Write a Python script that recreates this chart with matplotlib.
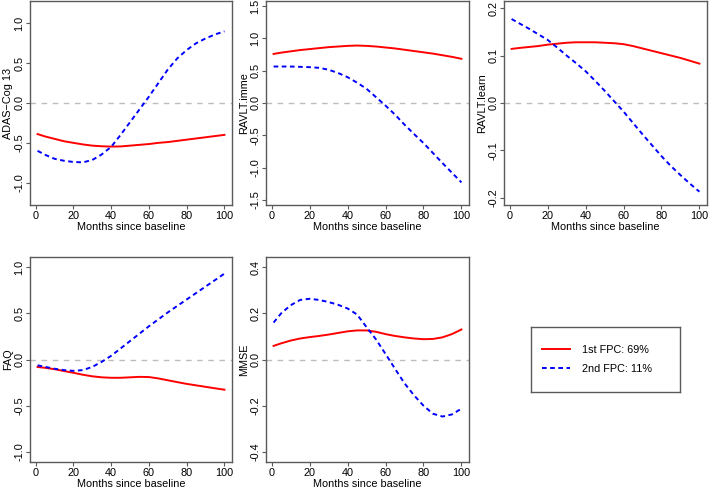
import matplotlib
matplotlib.use("Agg")
import matplotlib.pyplot as plt
from matplotlib.lines import Line2D

plt.rcParams['font.family'] = ['Liberation Sans', 'DejaVu Sans']

months = [1, 5, 10, 15, 20, 25, 30, 35, 40, 45, 50, 55, 60, 65, 70, 75, 80, 85, 90, 95, 100]

# 1st FPC (red) and 2nd FPC (blue) for each outcome
adas_fpc1 = [-0.39, -0.42, -0.45, -0.48, -0.50, -0.52, -0.535, -0.543, -0.547, -0.545, -0.535,
             -0.525, -0.515, -0.50, -0.49, -0.475, -0.46, -0.445, -0.43, -0.415, -0.40]
adas_fpc2 = [-0.60, -0.65, -0.70, -0.725, -0.74, -0.745, -0.715, -0.645, -0.55, -0.40, -0.24,
             -0.08, 0.08, 0.25, 0.42, 0.56, 0.665, 0.75, 0.81, 0.86, 0.90]

imme_fpc1 = [0.76, 0.78, 0.80, 0.82, 0.835, 0.85, 0.865, 0.875, 0.885, 0.89, 0.885,
             0.875, 0.86, 0.845, 0.825, 0.805, 0.785, 0.765, 0.74, 0.715, 0.685]
imme_fpc2 = [0.565, 0.565, 0.565, 0.56, 0.555, 0.545, 0.515, 0.465, 0.40, 0.315, 0.22,
             0.09, -0.04, -0.18, -0.335, -0.48, -0.62, -0.775, -0.93, -1.08, -1.23]

learn_fpc1 = [0.114, 0.116, 0.118, 0.120, 0.123, 0.125, 0.127, 0.128, 0.128, 0.128, 0.127,
              0.126, 0.124, 0.120, 0.115, 0.110, 0.105, 0.100, 0.095, 0.089, 0.083]
learn_fpc2 = [0.177, 0.168, 0.157, 0.145, 0.133, 0.117, 0.100, 0.084, 0.067, 0.047, 0.026,
              0.004, -0.018, -0.042, -0.066, -0.089, -0.112, -0.133, -0.152, -0.170, -0.187]

faq_fpc1 = [-0.081, -0.09, -0.105, -0.125, -0.144, -0.165, -0.182, -0.193, -0.198, -0.198, -0.193,
            -0.188, -0.19, -0.205, -0.225, -0.245, -0.264, -0.28, -0.296, -0.312, -0.327]
faq_fpc2 = [-0.063, -0.08, -0.10, -0.115, -0.123, -0.115, -0.08, -0.025, 0.04, 0.12, 0.20,
            0.28, 0.36, 0.435, 0.51, 0.58, 0.65, 0.72, 0.79, 0.86, 0.93]

mmse_fpc1 = [0.059, 0.07, 0.082, 0.091, 0.097, 0.102, 0.108, 0.115, 0.122, 0.126, 0.126,
             0.12, 0.11, 0.102, 0.096, 0.091, 0.088, 0.089, 0.096, 0.11, 0.13]
mmse_fpc2 = [0.16, 0.20, 0.235, 0.258, 0.263, 0.258, 0.249, 0.237, 0.221, 0.195, 0.14,
             0.087, 0.024, -0.04, -0.103, -0.155, -0.20, -0.235, -0.247, -0.238, -0.213]

names = ["ADAS\u2212Cog 13", "RAVLT.imme", "RAVLT.learn", "FAQ", "MMSE"]
fpc1 = [adas_fpc1, imme_fpc1, learn_fpc1, faq_fpc1, mmse_fpc1]
fpc2 = [adas_fpc2, imme_fpc2, learn_fpc2, faq_fpc2, mmse_fpc2]
ylims = [1.28, 1.58, 0.215, 1.11, 0.444]
yticks = [[-1.0, -0.5, 0.0, 0.5, 1.0],
          [-1.5, -1.0, -0.5, 0.0, 0.5, 1.0, 1.5],
          [-0.2, -0.1, 0.0, 0.1, 0.2],
          [-1.0, -0.5, 0.0, 0.5, 1.0],
          [-0.4, -0.2, 0.0, 0.2, 0.4]]
xticks = [0, 20, 40, 60, 80, 100]
legend_labels = ["1st FPC: 69%", "2nd FPC: 11%"]

W, H = 709, 488
FRAME = '#5a5a5a'
FS = 7.8
# pixel boxes (left, top, width, height)
boxes = [(30, 1, 202, 204), (266, 1, 203, 204), (504, 1, 203, 204),
         (30, 257, 202, 205), (266, 257, 203, 205)]


def px(l, t, w, h):
    return [l / W, 1 - (t + h) / H, w / W, h / H]


def main():
    fig = plt.figure(figsize=(W / 100, H / 100), dpi=100)
    for i in range(5):
        ax = fig.add_axes(px(*boxes[i]))
        ax.axhline(0, color='#bdbdbd', lw=1.0, dashes=(4, 4))
        ax.plot(months, fpc1[i], color='#ff0000', lw=1.4)
        ax.plot(months, fpc2[i], color='#0000ff', lw=1.4, dashes=(2.4, 1.8))
        ax.set_xlim(-3, 104)
        ax.set_ylim(-ylims[i], ylims[i])
        ax.set_xticks(xticks)
        ax.set_yticks(yticks[i])
        ax.set_yticklabels(["%.1f" % v for v in yticks[i]])
        ax.tick_params(axis='both', direction='out', length=3, width=0.8,
                       color=FRAME, labelsize=FS, pad=1)
        ax.tick_params(axis='y', labelrotation=90)
        for lab in ax.get_yticklabels():
            lab.set_va('center')
        for s in ax.spines.values():
            s.set_color(FRAME)
            s.set_linewidth(1.0)
        ax.set_xlabel("Months since baseline", fontsize=FS, labelpad=1)
        ax.set_ylabel(names[i], fontsize=FS)
        ax.yaxis.set_label_coords(-0.085, 0.5)

    # legend panel
    lax = fig.add_axes(px(531, 327, 149, 65))
    lax.set_xticks([])
    lax.set_yticks([])
    for s in lax.spines.values():
        s.set_color(FRAME)
        s.set_linewidth(1.0)
    handles = [Line2D([], [], color='#ff0000', lw=1.4),
               Line2D([], [], color='#0000ff', lw=1.4, dashes=(2.4, 1.8))]
    lax.legend(handles, legend_labels, loc='center left', bbox_to_anchor=(0.075, 0.5),
               frameon=False, fontsize=FS, handlelength=2.6, handletextpad=1.1,
               labelspacing=0.85, borderaxespad=0, borderpad=0)

    fig.savefig("out.png", dpi=100)


if __name__ == "__main__":
    main()
